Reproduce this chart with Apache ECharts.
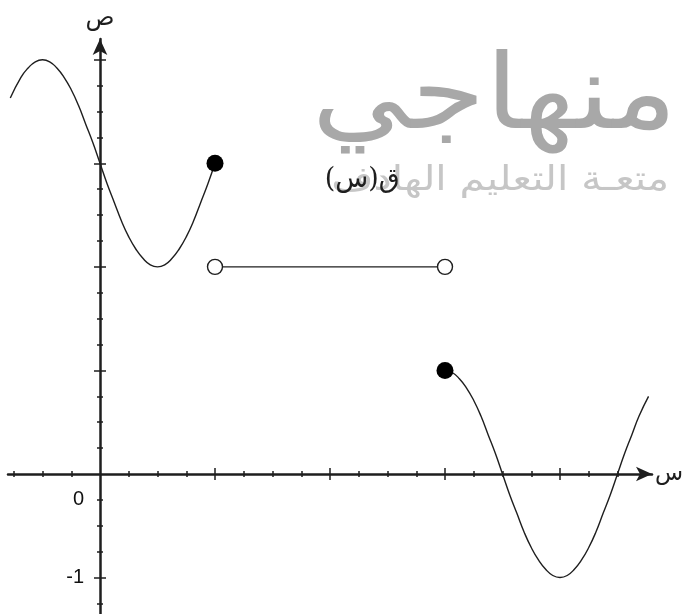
<!DOCTYPE html>
<html>
<head>
<meta charset="utf-8">
<script src="https://cdn.jsdelivr.net/npm/echarts@6/dist/echarts.min.js"></script>
<style>
  html, body { margin: 0; padding: 0; background: #fff; }
  #chart { width: 682px; height: 614px; }
</style>
</head>
<body>
<div id="chart"></div>
<script>
// قيم مقروءة من الرسم
const leftCurve = [
  [-0.78, 3.63], [-0.6875, 3.83], [-0.625, 3.92], [-0.5625, 3.98], [-0.5, 4.0],
  [-0.4375, 3.98], [-0.375, 3.92], [-0.3125, 3.83], [-0.25, 3.71], [-0.1875, 3.56],
  [-0.125, 3.38], [-0.0625, 3.2], [0, 3.0], [0.0625, 2.8], [0.125, 2.62],
  [0.1875, 2.44], [0.25, 2.29], [0.3125, 2.17], [0.375, 2.08], [0.4375, 2.02],
  [0.5, 2.0], [0.5625, 2.02], [0.625, 2.08], [0.6875, 2.17], [0.75, 2.29],
  [0.8125, 2.44], [0.875, 2.62], [0.9375, 2.8], [1, 3.0]
]
const middleSegment = [[1, 2], [3, 2]]
const rightCurve = [
  [3, 1.0], [3.0625, 0.98], [3.125, 0.92], [3.1875, 0.83], [3.25, 0.71],
  [3.3125, 0.56], [3.375, 0.38], [3.4375, 0.2], [3.5, 0], [3.5625, -0.2],
  [3.625, -0.38], [3.6875, -0.56], [3.75, -0.71], [3.8125, -0.83], [3.875, -0.92],
  [3.9375, -0.98], [4, -1.0], [4.0625, -0.98], [4.125, -0.92], [4.1875, -0.83],
  [4.25, -0.71], [4.3125, -0.56], [4.375, -0.38], [4.4375, -0.2], [4.5, 0],
  [4.5625, 0.2], [4.625, 0.38], [4.6875, 0.56], [4.77, 0.75]
]
const closedPoints = [[1, 3], [3, 1]]

const xMajorTicks = [1, 2, 3, 4]
const xMinorTicks = [-0.75, -0.5, -0.25, 0.25, 0.5, 0.75, 1.25, 1.5, 1.75, 2.25, 2.5, 2.75,
  3.25, 3.5, 3.75, 4.25, 4.5]
const yMajorTicks = [-1, 1, 2, 3, 4]
const yMinorTicks = [-1.25, -0.75, -0.5, -0.25, 0.25, 0.5, 0.75, 1.25, 1.5, 1.75, 2.25, 2.5, 2.75,
  3.25, 3.5, 3.75]
const yLabelValues = [-0.25, -1]
const yTickLabels = ['0', '-1']

const X_MIN = -0.8, X_MAX = 4.8, Y_MIN = -1.4, Y_MAX = 4.2
const INK = '#1e1e1e'
const arabicFont = '"DejaVu Sans", sans-serif'

const chart = echarts.init(document.getElementById('chart'), null, { renderer: 'canvas' })

const xAxisBase = (ticks, inside, len, showLine) => ({
  type: 'value',
  min: X_MIN,
  max: X_MAX,
  position: 'bottom',
  axisLine: {
    show: true,
    onZero: true,
    symbol: showLine ? ['none', 'arrow'] : 'none',
    symbolSize: [11, 16],
    lineStyle: { color: INK, width: 2.5, opacity: showLine ? 1 : 0 },
  },
  axisTick: { show: true, customValues: ticks, inside, length: len, lineStyle: { color: INK, width: 1.5 } },
  axisLabel: { show: false },
  splitLine: { show: false },
})

const yAxisBase = (ticks, inside, len, showLine) => ({
  type: 'value',
  min: Y_MIN,
  max: Y_MAX,
  position: 'left',
  axisLine: {
    show: true,
    onZero: true,
    symbol: showLine ? ['none', 'arrow'] : 'none',
    symbolSize: [11, 16],
    lineStyle: { color: INK, width: 2.5, opacity: showLine ? 1 : 0 },
  },
  axisTick: { show: true, customValues: ticks, inside, length: len, lineStyle: { color: INK, width: 1.5 } },
  axisLabel: { show: false },
  splitLine: { show: false },
})

const xAxes = [
  xAxisBase(xMajorTicks, false, 6, true),
  xAxisBase(xMajorTicks, true, 6, false),
  xAxisBase(xMinorTicks, false, 3, false),
  xAxisBase(xMinorTicks, true, 3, false),
]
xAxes[0].name = 'س'
xAxes[0].nameLocation = 'end'
xAxes[0].nameGap = 3
xAxes[0].nameTextStyle = { fontFamily: arabicFont, fontSize: 23, color: INK, verticalAlign: 'middle' }

const yAxes = [
  yAxisBase(yMajorTicks, false, 6, true),
  yAxisBase(yMajorTicks, true, 6, false),
  yAxisBase(yMinorTicks, false, 3, false),
  yAxisBase(yMinorTicks, true, 3, false),
]
yAxes[0].name = 'ص'
yAxes[0].nameLocation = 'end'
yAxes[0].nameGap = 8
yAxes[0].nameTextStyle = { fontFamily: arabicFont, fontSize: 24, color: INK, align: 'center' }
// في v6 تبقى تسميات المحور عند حافة الشبكة، لذلك هامش سالب
yAxes[0].axisLabel = {
  show: true,
  customValues: yLabelValues,
  margin: -76,
  align: 'right',
  fontFamily: '"Liberation Sans", Arial, sans-serif',
  fontSize: 20,
  color: '#111',
  formatter: (v) => yTickLabels[yLabelValues.indexOf(v)],
}

const option = {
  animation: false,
  backgroundColor: '#fff',
  grid: { left: 8, top: 39, width: 644, height: 580, containLabel: false, outerBoundsMode: 'none' },
  xAxis: xAxes,
  yAxis: yAxes,
  graphic: [
    {
      type: 'text',
      right: 5,
      top: 49,
      z: -10,
      scaleX: 1.15,
      style: {
        text: 'منهاجي',
        font: '104px "DejaVu Sans", sans-serif',
        fill: '#a8a8a8',
      },
    },
    {
      type: 'text',
      right: 13,
      top: 164,
      z: -10,
      scaleX: 1.2,
      style: {
        text: 'متعـة التعليم الهادف',
        font: '34px "DejaVu Sans", sans-serif',
        fill: '#c6c6c6',
      },
    },
  ],
  series: [
    {
      type: 'line',
      data: leftCurve,
      smooth: true,
      showSymbol: false,
      clip: false,
      lineStyle: { color: INK, width: 1.4 },
      z: 3,
    },
    {
      type: 'line',
      data: middleSegment,
      showSymbol: true,
      symbol: 'circle',
      symbolSize: 15,
      itemStyle: { color: '#fff', borderColor: INK, borderWidth: 1.4 },
      lineStyle: { color: INK, width: 1.4 },
      z: 3,
    },
    {
      type: 'line',
      data: rightCurve,
      smooth: true,
      showSymbol: false,
      clip: false,
      lineStyle: { color: INK, width: 1.4 },
      z: 3,
    },
    {
      type: 'scatter',
      data: closedPoints,
      symbolSize: 17,
      itemStyle: { color: '#000', opacity: 1 },
      z: 4,
      markPoint: {
        symbol: 'circle',
        symbolSize: 0,
        data: [{ coord: [2.28, 2.84] }],
        label: {
          show: true,
          position: 'inside',
          formatter: 'ق(س)',
          fontFamily: '"DejaVu Serif", "DejaVu Sans", serif',
          fontSize: 27,
          color: INK,
        },
      },
    },
  ],
}

chart.setOption(option)
</script>
</body>
</html>
